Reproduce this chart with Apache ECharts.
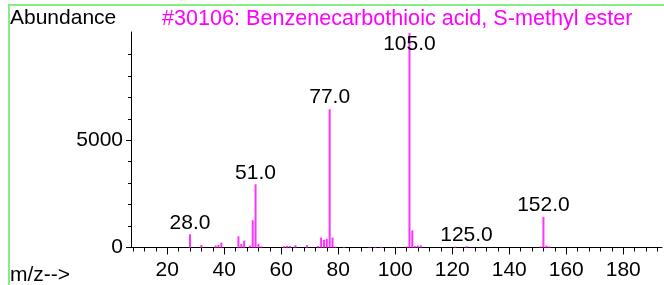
<!DOCTYPE html>
<html><head><meta charset="utf-8">
<script src="https://cdn.jsdelivr.net/npm/echarts@6/dist/echarts.min.js"></script>
<style>
html,body{margin:0;padding:0;background:#fff;}
#wrap{position:relative;width:664px;height:285px;overflow:hidden;}
#frame{position:absolute;left:8px;top:4px;width:700px;height:300px;border-left:2px solid #86ec86;border-top:2px solid #86ec86;}
#chart{position:absolute;left:0;top:0;width:664px;height:285px;}
</style></head><body>
<div id="wrap"><div id="frame"></div><div id="chart"></div></div>
<script>
const titleText = '#30106: Benzenecarbothioic acid, S-methyl ester';
const yAxisTitle = 'Abundance';
const xAxisTitle = 'm/z-->';
const mzValues   = [28, 32, 37, 38, 39, 45, 46, 47, 49, 50, 51, 52, 53, 61, 62, 63, 65, 69, 73, 74, 75, 76, 77, 78, 79, 82, 91, 93, 95, 104, 105, 106, 107, 108, 109, 121, 125, 151, 152, 153, 154];
const abundances = [620, 120, 90, 120, 230, 520, 170, 320, 90, 1270, 2950, 170, 50, 60, 80, 80, 110, 110, 70, 470, 360, 400, 6450, 460, 40, 30, 30, 30, 30, 50, 9999, 800, 70, 90, 100, 40, 60, 50, 1430, 90, 50];
const labeledPeaks = [28, 51, 77, 105, 125, 152];
const xMajorTicks = [20, 40, 60, 80, 100, 120, 140, 160, 180];
const xMinorTicks = [8, 12, 16, 24, 28, 32, 36, 44, 48, 52, 56, 64, 68, 72, 76, 84, 88, 92, 96, 104, 108, 112, 116, 124, 128, 132, 136, 144, 148, 152, 156, 164, 168, 172, 176, 184, 188, 192];
const yMajorTicks = [0, 5000];
const yMinorTicks = [1000, 2000, 3000, 4000, 6000, 7000, 8000, 9000];
const xRange = [7.3, 193.6];
const yRange = [0, 10050];

const FONT = "'Liberation Sans', Arial, sans-serif";
const FS = 21;
const chart = echarts.init(document.getElementById('chart'), null, {renderer: 'canvas'});

const data = mzValues.map((mz, i) => {
  const item = {value: [mz, abundances[i]]};
  if (labeledPeaks.indexOf(mz) >= 0) {
    const nearTop = abundances[i] > 0.9 * yRange[1];
    item.label = {
      show: true,
      position: nearTop ? 'insideTop' : 'top',
      distance: nearTop ? 1 : 1,
      formatter: () => mz.toFixed(1),
      color: '#000', fontFamily: FONT, fontSize: FS
    };
  }
  return item;
});

const baseXAxis = {type: 'value', min: xRange[0], max: xRange[1], gridIndex: 0, position: 'bottom', splitLine: {show: false}};
const baseYAxis = {type: 'value', min: yRange[0], max: yRange[1], gridIndex: 0, position: 'left', splitLine: {show: false}};

chart.setOption({
  animation: false,
  backgroundColor: 'transparent',
  title: [
    {text: titleText, left: 162, top: 8, padding: 0, textStyle: {color: '#ff00ff', fontFamily: FONT, fontSize: 21.6, fontWeight: 'normal'}},
    {text: yAxisTitle, left: 10, top: 8, padding: 0, textStyle: {color: '#000', fontFamily: FONT, fontSize: FS, fontWeight: 'normal'}},
    {text: xAxisTitle, left: 10, top: 265, padding: 0, textStyle: {color: '#000', fontFamily: FONT, fontSize: FS, fontWeight: 'normal'}}
  ],
  grid: {left: 131, right: 2, top: 32, bottom: 37.5, containLabel: false},
  xAxis: [
    Object.assign({}, baseXAxis, {
      axisLine: {show: true, onZero: false, lineStyle: {color: '#000', width: 1}},
      axisTick: {show: true, length: 7, customValues: xMajorTicks, lineStyle: {color: '#000'}},
      axisLabel: {show: true, customValues: xMajorTicks, margin: 12, color: '#000', fontFamily: FONT, fontSize: FS, formatter: v => String(v)}
    }),
    Object.assign({}, baseXAxis, {
      axisLine: {show: false, onZero: false},
      axisTick: {show: true, length: 4, customValues: xMinorTicks, lineStyle: {color: '#000'}},
      axisLabel: {show: false}
    })
  ],
  yAxis: [
    Object.assign({}, baseYAxis, {
      axisLine: {show: true, lineStyle: {color: '#000', width: 1}},
      axisTick: {show: true, length: 5, customValues: yMajorTicks, lineStyle: {color: '#000'}},
      axisLabel: {show: true, customValues: yMajorTicks, margin: 8, color: '#000', fontFamily: FONT, fontSize: FS, formatter: v => String(v)}
    }),
    Object.assign({}, baseYAxis, {
      axisLine: {show: false},
      axisTick: {show: true, length: 3, customValues: yMinorTicks, lineStyle: {color: '#000'}},
      axisLabel: {show: false}
    })
  ],
  series: [{
    type: 'bar',
    xAxisIndex: 0, yAxisIndex: 0,
    barWidth: 2,
    itemStyle: {color: '#ff33ff'},
    label: {show: false},
    data: data
  }]
});
</script>
</body></html>
